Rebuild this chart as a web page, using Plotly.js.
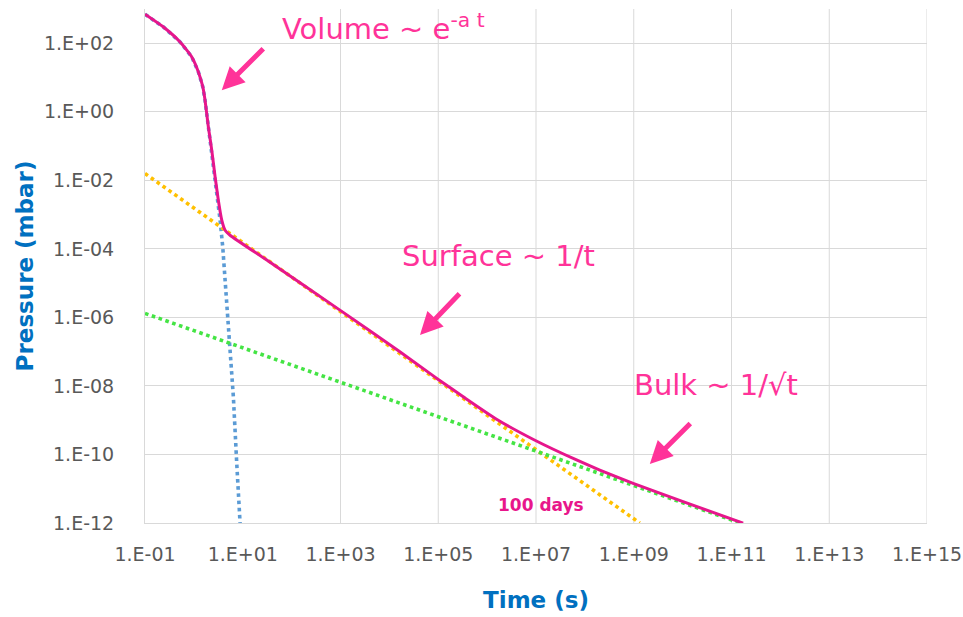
<!DOCTYPE html>
<html><head><meta charset="utf-8">
<script src="https://cdn.plot.ly/plotly-3.0.1.min.js"></script>
<style>html,body{margin:0;padding:0;background:#fff}#chart{width:963px;height:617px}</style>
</head><body><div id="chart"></div>
<script>
// Total pressure (solid magenta)
const totalTime = [0.1, 0.238, 0.522, 0.906, 1.236, 1.52, 1.69, 1.98, 2.32, 2.72, 3.17, 3.72, 4.35, 5.5, 31,
  973, 16400, 67300, 1.0e5, 3.24e5, 1.56e6, 9.5e6, 6.76e7, 2.02e8, 9.7e8, 1.02e10, 1.73e11];
const totalPressure = [702, 298, 109, 40, 14.6, 5.4, 2.2, 0.36, 0.076, 0.0126, 2.6e-3, 6.9e-4, 3.5e-4, 2.5e-4, 4.7e-5,
  1.63e-6, 9.9e-8, 2.33e-8, 1.55e-8, 4.84e-9, 1.07e-9, 2.6e-10, 6.9e-11, 3.5e-11, 1.44e-11, 4.2e-12, 9.9e-13];
// Volume (blue dotted)
const volumeTime = [0.1, 0.238, 0.522, 0.906, 1.236, 1.52, 1.69, 1.98, 2.32, 2.72, 3.17, 3.44, 3.90, 4.71, 5.50, 6.43, 7.53, 8.81];
const volumePressure = [702, 298, 109, 40, 14.6, 5.4, 2.2, 0.36, 0.076, 0.0126, 2.6e-3, 6.9e-4, 1.12e-4, 2.6e-6, 2.2e-7, 4.75e-9, 5.6e-11, 1.0e-12];
// Surface (yellow dotted)
const surfaceTime = [0.1, 1.33e9];
const surfacePressure = [1.58e-2, 1.0e-12];
// Bulk (green dotted)
const bulkTime = [0.1, 1.5e11];
const bulkPressure = [1.31e-6, 1.0e-12];

const xTickVals = [1e-1, 1e1, 1e3, 1e5, 1e7, 1e9, 1e11, 1e13, 1e15];
const xTickText = ['1.E-01', '1.E+01', '1.E+03', '1.E+05', '1.E+07', '1.E+09', '1.E+11', '1.E+13', '1.E+15'];
const xGridVals = [1e3, 1e5, 1e7, 1e9, 1e11, 1e13, 1e15];
const yTickVals = [1e-12, 1e-10, 1e-8, 1e-6, 1e-4, 1e-2, 1e0, 1e2];
const yTickText = ['1.E-12', '1.E-10', '1.E-08', '1.E-06', '1.E-04', '1.E-02', '1.E+00', '1.E+02'];

const pink = '#ff3399';
const lineMagenta = '#e6168c';

const traces = [
  {x: volumeTime, y: volumePressure, mode: 'lines', line: {color: '#5b9bd5', width: 3.6, dash: 'dot'}, hoverinfo: 'skip'},
  {x: surfaceTime, y: surfacePressure, mode: 'lines', line: {color: '#ffc000', width: 3.6, dash: 'dot'}, hoverinfo: 'skip'},
  {x: bulkTime, y: bulkPressure, mode: 'lines', line: {color: '#44e444', width: 3.6, dash: 'dot'}, hoverinfo: 'skip'},
  {x: totalTime, y: totalPressure, mode: 'lines', line: {color: lineMagenta, width: 3, shape: 'spline', smoothing: 0.5}, hoverinfo: 'skip'}
];

const L = Math.log10;
const annFont = {family: 'DejaVu Sans', size: 29, color: pink};
const arrow = (t, p, ax, ay) => ({x: L(t), y: L(p), xref: 'x', yref: 'y', text: ' ', showarrow: true,
  arrowhead: 2, arrowsize: 0.9, arrowwidth: 5, arrowcolor: pink, ax: ax, ay: ay, standoff: 0});

const layout = {
  width: 963, height: 617,
  margin: {l: 145, r: 36, t: 9, b: 94},
  paper_bgcolor: '#ffffff', plot_bgcolor: '#ffffff',
  showlegend: false,
  font: {family: 'DejaVu Sans', color: '#595959'},
  xaxis: {
    type: 'log', range: [-1, 15],
    tickvals: xTickVals, ticktext: xTickText,
    tickfont: {family: 'DejaVu Sans', size: 19, color: '#595959'},
    ticks: '', ticklabelstandoff: 14,
    showgrid: false, zeroline: false,
    showline: true, linecolor: '#d9d9d9', linewidth: 1,
    title: {text: '<b>Time (s)</b>', font: {family: 'DejaVu Sans', size: 23, color: '#0070c0'}, standoff: 28}
  },
  yaxis: {
    type: 'log', range: [-12, 3],
    tickvals: yTickVals, ticktext: yTickText,
    tickfont: {family: 'DejaVu Sans', size: 19, color: '#595959'},
    ticks: '', ticklabelstandoff: 26,
    showgrid: true, gridcolor: '#d9d9d9', gridwidth: 1, zeroline: false,
    showline: true, linecolor: '#d9d9d9', linewidth: 1,
    title: {text: '<b>Pressure (mbar)</b>', font: {family: 'DejaVu Sans', size: 23, color: '#0070c0'}, standoff: 3}
  },
  shapes: xGridVals.map(v => ({type: 'line', xref: 'x', yref: 'paper', x0: v, x1: v, y0: 0, y1: 1,
    line: {color: '#d9d9d9', width: 1}, layer: 'below'})),
  annotations: [
    {x: L(58), y: L(293), xref: 'x', yref: 'y', text: 'Volume ~ e<sup>-a t</sup>', showarrow: false,
      xanchor: 'left', yanchor: 'middle', font: annFont},
    {x: L(16500), y: L(6.1e-5), xref: 'x', yref: 'y', text: 'Surface ~ 1/t', showarrow: false,
      xanchor: 'left', yanchor: 'middle', font: annFont},
    {x: L(9.0e8), y: L(1.06e-8), xref: 'x', yref: 'y', text: 'Bulk ~ 1/√t', showarrow: false,
      xanchor: 'left', yanchor: 'middle', font: annFont},
    {x: L(1.28e7), y: L(3.4e-12), xref: 'x', yref: 'y', text: '<b>100 days</b>', showarrow: false,
      xanchor: 'center', yanchor: 'middle', font: {family: 'DejaVu Sans', size: 17, color: '#e8168b'}},
    arrow(3.72, 4.26, 45, -45),
    arrow(42300, 3.05e-7, 43, -45),
    arrow(2.13e9, 5.3e-11, 44, -44)
  ]
};

Plotly.newPlot('chart', traces, layout, {displayModeBar: false, staticPlot: true});
</script>
</body></html>
